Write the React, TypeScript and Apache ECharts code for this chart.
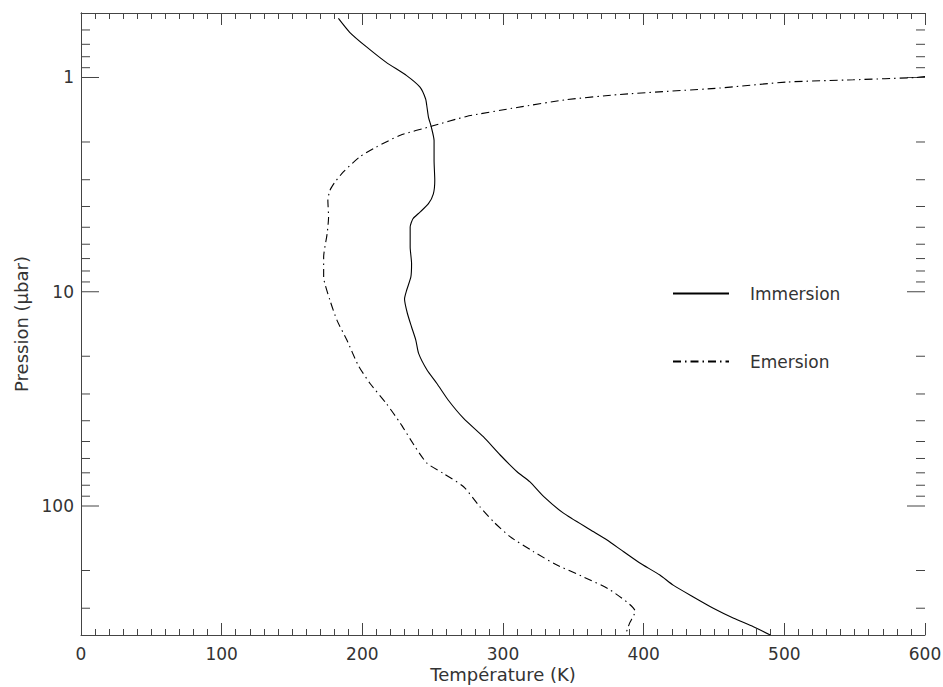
import React, { useEffect, useRef } from "react";
import * as echarts from "echarts";

// Immersion profile (solid): temperature (K) and pressure (µbar)
const immersionT = [183, 191, 203, 217, 231.5, 241, 245, 246, 247, 249, 251, 251, 251.5, 250.5, 247, 241, 236, 234, 234, 235, 234.5, 231.5, 230, 232, 235, 238, 240, 246, 253, 261, 272, 286, 298, 310, 319, 329, 343, 362, 374, 385.5, 397, 411.5, 421, 435, 449.5, 464, 478, 490];
const immersionP = [0.53, 0.615, 0.72, 0.85, 0.98, 1.11, 1.26, 1.38, 1.53, 1.7, 1.97, 2.44, 3.02, 3.49, 3.88, 4.25, 4.56, 4.99, 6.18, 7.39, 8.53, 9.84, 10.8, 12.6, 14.6, 16.8, 19.4, 23.2, 26.8, 32.0, 39.0, 47.5, 57.8, 69.2, 77.0, 90.5, 108, 129, 144, 163, 184, 210, 234, 265, 300, 334, 366, 400];

// Emersion profile (dash-dot)
const emersionT = [600, 594, 549, 502, 454, 383, 345, 310, 274, 249, 227, 210, 198, 186.5, 180.5, 177, 175.5, 176, 175, 172.5, 172.5, 177, 182, 189, 197, 205.5, 217, 227, 237.5, 246, 257.5, 272, 283.5, 293, 305, 321.5, 338, 357, 376, 394, 390, 387];
const emersionP = [0.99, 1.0, 1.025, 1.05, 1.12, 1.2, 1.27, 1.38, 1.52, 1.69, 1.86, 2.11, 2.35, 2.76, 3.08, 3.36, 3.74, 4.48, 5.35, 6.88, 8.53, 10.96, 13.6, 16.8, 22.0, 26.8, 33.2, 41.1, 52.9, 63.2, 70.4, 81.3, 100.7, 118, 139, 163, 188, 214, 246, 311, 352, 400];

// Axis ticks
const yLabelValues = [1, 10, 100];
const yTickValues = [0.6, 0.7, 0.8, 0.9, 1, 2, 3, 4, 5, 6, 7, 8, 9, 10, 20, 30, 40, 50, 60, 70, 80, 90, 100, 200, 300];
const xMin = 0;
const xMax = 600;
const yMin = 0.5;
const yMax = 400;

const FONT = "DejaVu Sans";
const INK = "#333";
const AXIS = "#444";

export default function App() {
  const ref = useRef<HTMLDivElement>(null);
  useEffect(() => {
    if (!ref.current) return;
    const chart = echarts.init(ref.current, undefined, { renderer: "svg" });
    const imm = immersionT.map((t, i) => [t, immersionP[i]]);
    const emr = emersionT.map((t, i) => [t, emersionP[i]]);
    const xAxisBase = {
      type: "value",
      min: xMin,
      max: xMax,
      interval: 100,
      splitLine: { show: false },
      axisLine: { show: true, lineStyle: { color: AXIS, width: 1 } },
      axisTick: { show: true, inside: true, length: 12, lineStyle: { color: AXIS } },
      minorTick: { show: true, splitNumber: 10, length: 6, lineStyle: { color: AXIS } },
    };
    const yAxisBase = {
      type: "log",
      logBase: 10,
      min: yMin,
      max: yMax,
      inverse: true,
      splitLine: { show: false },
      minorSplitLine: { show: false },
      axisLine: { show: true, lineStyle: { color: AXIS, width: 1 } },
      axisTick: { show: false },
    };
    chart.setOption({
      animation: false,
      backgroundColor: "#fff",
      grid: { left: 81, width: 844, top: 13, height: 622, containLabel: false, outerBoundsMode: "none" },
      xAxis: [
        {
          ...xAxisBase,
          position: "bottom",
          name: "Température (K)",
          nameLocation: "middle",
          nameGap: 30,
          nameMoveOverlap: false,
          nameTextStyle: { fontFamily: FONT, fontSize: 18, lineHeight: 18, color: INK },
          axisLabel: { fontFamily: FONT, fontSize: 17, lineHeight: 16, color: INK, margin: 11 },
        },
        {
          ...xAxisBase,
          position: "top",
          axisLabel: { show: false },
        },
      ],
      yAxis: [
        {
          ...yAxisBase,
          position: "left",
          name: "Pression (μbar)",
          nameLocation: "middle",
          nameGap: 46,
          nameTextStyle: { fontFamily: FONT, fontSize: 18, color: INK },
          axisLabel: {
            fontFamily: FONT,
            fontSize: 17,
            color: INK,
            margin: 7,
            customValues: yLabelValues,
            formatter: (v: number) => String(Math.round(v)),
          },
        },
        {
          ...yAxisBase,
          position: "right",
          axisLabel: { show: false },
        },
      ],
      legend: {
        data: ["Immersion", "Emersion"],
        orient: "vertical",
        left: 672,
        top: 285,
        padding: 0,
        itemWidth: 56,
        itemHeight: 14,
        itemGap: 51,
        selectedMode: false,
        itemStyle: { opacity: 0 },
        textStyle: { fontFamily: FONT, fontSize: 17, color: INK, padding: [0, 0, 0, 16] },
      },
      series: [
        {
          name: "Immersion",
          type: "line",
          data: imm,
          symbol: "none",
          smooth: 0.2,
          lineStyle: { color: "#000", width: 1.1, type: "solid" },
          itemStyle: { color: "#000" },
        },
        {
          name: "Emersion",
          type: "line",
          data: emr,
          symbol: "none",
          smooth: 0.2,
          lineStyle: { color: "#000", width: 1.1, type: [8, 4, 1.5, 4] },
          itemStyle: { color: "#000" },
        },
        {
          name: "yticks",
          type: "custom",
          silent: true,
          data: yTickValues.map((v) => [xMin, v]),
          renderItem: (params: any, api: any) => {
            const v = api.value(1);
            const pl = api.coord([xMin, v]);
            const pr = api.coord([xMax, v]);
            const lg = Math.log10(v);
            const major = Math.abs(lg - Math.round(lg)) < 1e-6;
            const len = major ? 18 : 9;
            const style = { stroke: AXIS, lineWidth: 1 };
            return {
              type: "group",
              children: [
                { type: "line", shape: { x1: pl[0], y1: pl[1], x2: pl[0] + len, y2: pl[1] }, style },
                { type: "line", shape: { x1: pr[0], y1: pr[1], x2: pr[0] - len, y2: pr[1] }, style },
              ],
            };
          },
        },
      ],
    });
    return () => chart.dispose();
  }, []);
  return (
    <div
      ref={ref}
      style={{ position: "fixed", left: 0, top: 0, width: 943, height: 687, background: "#fff" }}
    />
  );
}
